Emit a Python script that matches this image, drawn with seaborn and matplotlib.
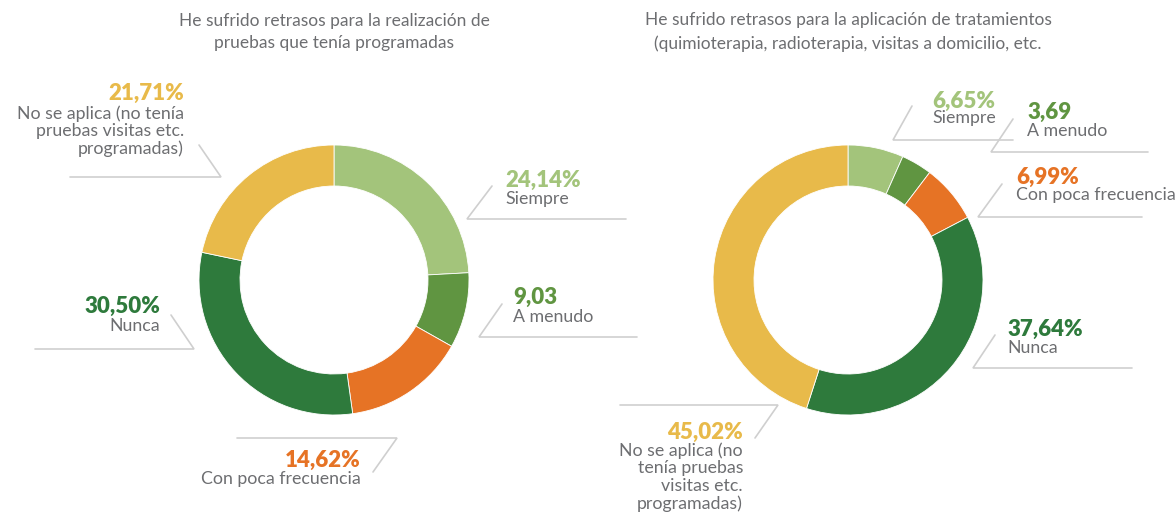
import seaborn as sns
import matplotlib
import matplotlib.pyplot as plt

# datos
categorias = ["Siempre", "A menudo", "Con poca frecuencia", "Nunca", "No se aplica"]
pruebas = [24.14, 9.03, 14.62, 30.50, 21.71]
tratamientos = [6.65, 3.69, 6.99, 37.64, 45.02]
pruebas_valores = ["24,14%", "9,03", "14,62%", "30,50%", "21,71%"]
tratamientos_valores = ["6,65%", "3,69", "6,99%", "37,64%", "45,02%"]
pruebas_textos = ["Siempre", "A menudo", "Con poca frecuencia", "Nunca",
                  "No se aplica (no tenía\npruebas visitas etc.\nprogramadas)"]
tratamientos_textos = ["Siempre", "A menudo", "Con poca frecuencia", "Nunca",
                       "No se aplica (no\ntenía pruebas\nvisitas etc.\nprogramadas)"]
titulos = ["He sufrido retrasos para la realización de\npruebas que tenía programadas",
           "He sufrido retrasos para la aplicación de tratamientos\n(quimioterapia, radioterapia, visitas a domicilio, etc."]

colores = sns.color_palette(["#a3c47b", "#609541", "#e67325", "#2e7a3c", "#e8ba4a"])
gris = "#6d6e71"
linea = "#cfcfcf"

sns.set_theme(style="white")
plt.rcParams['font.family'] = ['Lato', 'DejaVu Sans']

fig = plt.figure(figsize=(11.76, 5.2), dpi=100)
ax = fig.add_axes([0, 0, 1, 1])

# layout: (x, y valor, y texto, alineacion, puntos de la guia)
layout_pruebas = [
    (505, 180, 201, "left", [(492, 186), (467, 219), (626, 219)]),
    (513, 297, 319, "left", [(502, 304), (479, 337), (637, 337)]),
    (361, 460, 481, "right", [(237, 438), (397, 438), (373, 472)]),
    (160, 306, 328, "right", [(35, 349), (194, 349), (171, 315)]),
    (184, 93, 115, "right", [(70, 177), (221, 177), (199, 145)]),
]
layout_trat = [
    (932, 101, 120, "left", [(912, 106), (893, 140), (1013, 140)]),
    (1027, 112, 133, "left", [(1013, 119), (991, 152), (1148, 152)]),
    (1016, 177, 197, "left", [(1002, 184), (978, 217), (1142, 217)]),
    (1007, 329, 350, "left", [(995, 335), (973, 368), (1132, 368)]),
    (743, 432, 452, "right", [(620, 405), (778, 405), (755, 438)]),
]


def donut(valores, centro, etiquetas, textos, layout, titulo):
    ax.pie(valores, colors=colores, startangle=-90, counterclock=True,
           radius=135, center=centro,
           wedgeprops=dict(width=41, edgecolor="white", linewidth=0.6))
    ax.text(centro[0], 32, titulo, ha="center", va="center", color=gris,
            fontsize=12.5, linespacing=1.5)
    for i in range(len(valores)):
        x, yv, yt, ha, pts = layout[i]
        ax.text(x, yv, etiquetas[i], ha=ha, va="center", color=colores[i],
                fontsize=16, fontweight="heavy")
        ax.text(x, yt - 10, textos[i], ha=ha, va="top", color=gris,
                fontsize=12.8, linespacing=1.12)
        ax.plot([p[0] for p in pts], [p[1] for p in pts], color=linea,
                lw=1.2, solid_joinstyle="miter")


donut(pruebas, (334, 280), pruebas_valores, pruebas_textos, layout_pruebas, titulos[0])
donut(tratamientos, (848, 280), tratamientos_valores, tratamientos_textos, layout_trat, titulos[1])

ax.set_xlim(0, 1176)
ax.set_ylim(520, 0)
ax.set_aspect("equal")
ax.axis("off")

plt.savefig("out.png", dpi=100)
